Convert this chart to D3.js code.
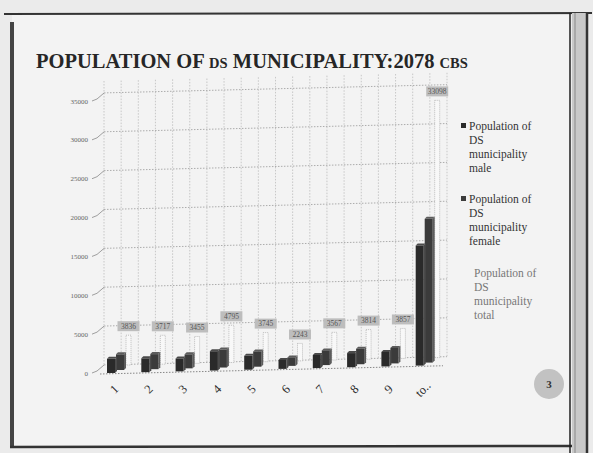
<!DOCTYPE html>
<html>
<head>
<meta charset="utf-8">
<script src="https://cdn.jsdelivr.net/npm/d3@7"></script>
<style>
  body { margin: 0; background: #e6e6e6; }
  svg { display: block; }
</style>
</head>
<body>
<div id="chart"></div>
<script>
// ward categories and series
var wards = ["1", "2", "3", "4", "5", "6", "7", "8", "9", "to.."];
var maleValues = [1820, 1780, 1650, 2480, 1780, 1150, 1680, 1820, 1860, 15450];
var femaleValues = [2016, 1937, 1805, 2315, 1965, 1093, 1887, 1994, 1997, 18500];
var totalValues = [3836, 3717, 3455, 4795, 3745, 2243, 3567, 3814, 3857, 33098];
var yTicks = [0, 5000, 10000, 15000, 20000, 25000, 30000, 35000];
var legendNames = ["Population of DS municipality male", "Population of DS municipality female", "Population of DS municipality total"];

var W = 593, H = 453;
var serif = "'Liberation Serif', 'DejaVu Serif', serif";

var data = wards.map(function(w, i) {
  return { ward: w, male: maleValues[i], female: femaleValues[i], total: totalValues[i] };
});

var svg = d3.select("#chart").append("svg")
  .attr("width", W)
  .attr("height", H);

// slide page + frame
svg.append("rect").attr("width", W).attr("height", H).attr("fill", "#ebebeb");
svg.append("rect").attr("x", 12).attr("y", 15).attr("width", 557).attr("height", 432).attr("fill", "#f3f3f3");
svg.append("line").attr("x1", 4).attr("x2", 592).attr("y1", 14).attr("y2", 13)
  .attr("stroke", "#333").attr("stroke-width", 2);
svg.append("line").attr("x1", 12).attr("x2", 12).attr("y1", 22).attr("y2", 447)
  .attr("stroke", "#444").attr("stroke-width", 4);
svg.append("line").attr("x1", 10).attr("x2", 572).attr("y1", 447).attr("y2", 446)
  .attr("stroke", "#333").attr("stroke-width", 2.5);
svg.append("rect").attr("x", 572).attr("y", 13).attr("width", 14).attr("height", 440).attr("fill", "#c8c8c8");
svg.append("line").attr("x1", 570).attr("x2", 570).attr("y1", 13).attr("y2", 453)
  .attr("stroke", "#222").attr("stroke-width", 1.5);
svg.append("line").attr("x1", 575).attr("x2", 575).attr("y1", 13).attr("y2", 453)
  .attr("stroke", "#888").attr("stroke-width", 1);
svg.append("line").attr("x1", 587).attr("x2", 587).attr("y1", 13).attr("y2", 453)
  .attr("stroke", "#333").attr("stroke-width", 2.5);

// title
var title = svg.append("text")
  .attr("x", 36).attr("y", 68)
  .style("font-family", serif)
  .style("font-size", "20.5px")
  .style("font-weight", "bold")
  .style("fill", "#262626");
title.append("tspan").text("POPULATION OF ");
title.append("tspan").text("DS").style("font-size", "14.5px");
title.append("tspan").text(" MUNICIPALITY:2078 ");
title.append("tspan").text("CBS").style("font-size", "14.5px");

// scales
var x = d3.scaleBand()
  .domain(wards)
  .range([100, 443])
  .padding(0);

var y = d3.scaleLinear()
  .domain([0, 35000])
  .range([373, 101]);

// the 3d chart leans up to the right, and rows further back sit higher
function tilt(px) { return (px - 100) * 0.024; }
var depth = 8;

var plot = svg.append("g");

// back wall gridlines
plot.selectAll(".hgrid")
  .data(yTicks)
  .enter().append("line")
  .attr("class", "hgrid")
  .attr("x1", 104).attr("x2", 447)
  .attr("y1", function(d) { return y(d) - depth - tilt(104); })
  .attr("y2", function(d) { return y(d) - depth - tilt(447); })
  .attr("stroke", "#999")
  .attr("stroke-dasharray", "1.5,1.5")
  .attr("stroke-width", 0.8);

var vgrid = [];
wards.forEach(function(w) { vgrid.push(x(w)); vgrid.push(x(w) + x.bandwidth() / 2); });
vgrid.push(443);
plot.selectAll(".vgrid")
  .data(vgrid)
  .enter().append("line")
  .attr("class", "vgrid")
  .attr("x1", function(d) { return d + 4; })
  .attr("x2", function(d) { return d + 4; })
  .attr("y1", function(d) { return y(35000) - depth - 12 - tilt(d); })
  .attr("y2", function(d) { return y(0) - depth - tilt(d); })
  .attr("stroke", "#b5b5b5")
  .attr("stroke-dasharray", "1.5,1.5")
  .attr("stroke-width", 0.7);

// floor line
plot.append("line")
  .attr("x1", 100).attr("x2", 443)
  .attr("y1", y(0) + 1 - tilt(100)).attr("y2", y(0) + 1 - tilt(443))
  .attr("stroke", "#888").attr("stroke-dasharray", "1.5,1.5");

// y axis labels and ticks
plot.selectAll(".ylab")
  .data(yTicks)
  .enter().append("text")
  .attr("class", "ylab")
  .attr("x", 88)
  .attr("y", function(d) { return y(d) + 2.5; })
  .attr("text-anchor", "end")
  .style("font-family", serif)
  .style("font-size", "7px")
  .style("fill", "#666")
  .text(function(d) { return d; });

plot.selectAll(".ytick")
  .data(yTicks)
  .enter().append("path")
  .attr("class", "ytick")
  .attr("d", function(d) { return "M92," + y(d) + "L97," + (y(d) - 2) + "L104," + (y(d) - depth); })
  .attr("fill", "none")
  .attr("stroke", "#888").attr("stroke-width", 0.8);

// total series, drawn at the back
var groups = plot.selectAll(".ward")
  .data(data)
  .enter().append("g")
  .attr("class", "ward");

groups.append("rect")
  .attr("x", function(d) { return x(d.ward) + 26; })
  .attr("y", function(d) { return y(d.total) - depth - tilt(x(d.ward)); })
  .attr("width", 5)
  .attr("height", function(d) { return y(0) - y(d.total); })
  .attr("fill", "#f8f8f8")
  .attr("stroke", "#b0b0b0")
  .attr("stroke-dasharray", "1,1")
  .attr("stroke-width", 0.8);

// female (middle row) and male (front row)
function bar3d(sel, key, dx, dy, col, side) {
  var bw = 8;
  sel.append("path")
    .attr("d", function(d) {
      var x0 = x(d.ward) + dx + bw, yt = y(d[key]) - dy - tilt(x(d.ward)), yb = y(0) - dy - tilt(x(d.ward));
      return "M" + x0 + "," + yt + "l2,-2v" + (yb - yt) + "l-2,2z";
    })
    .attr("fill", side);
  sel.append("path")
    .attr("d", function(d) {
      var x0 = x(d.ward) + dx, yt = y(d[key]) - dy - tilt(x(d.ward));
      return "M" + x0 + "," + yt + "l2,-2h" + bw + "l-2,2z";
    })
    .attr("fill", side);
  sel.append("rect")
    .attr("x", function(d) { return x(d.ward) + dx; })
    .attr("y", function(d) { return y(d[key]) - dy - tilt(x(d.ward)); })
    .attr("width", bw)
    .attr("height", function(d) { return y(0) - y(d[key]); })
    .attr("fill", col);
}
bar3d(groups, "female", 16, 3, "#3b3b3b", "#5c5c5c");
bar3d(groups, "male", 7, 0, "#2a2a2a", "#4a4a4a");

// data labels of total
groups.append("rect")
  .attr("x", function(d) { return x(d.ward) + 28.5 - 11; })
  .attr("y", function(d) { return y(d.total) - depth - tilt(x(d.ward)) - 14; })
  .attr("width", 22)
  .attr("height", 10)
  .attr("fill", "#bdbdbd");

groups.append("text")
  .attr("x", function(d) { return x(d.ward) + 28.5; })
  .attr("y", function(d) { return y(d.total) - depth - tilt(x(d.ward)) - 6.5; })
  .attr("text-anchor", "middle")
  .style("font-family", serif)
  .style("font-size", "7.5px")
  .style("fill", "#555")
  .text(function(d) { return d.total; });

// x labels, rotated
plot.selectAll(".xlab")
  .data(wards)
  .enter().append("text")
  .attr("class", "xlab")
  .attr("transform", function(d) {
    return "translate(" + (x(d) + x.bandwidth() / 2) + ",392) rotate(-45)";
  })
  .attr("text-anchor", "middle")
  .style("font-family", serif)
  .style("font-size", "12.5px")
  .style("fill", "#2e2e2e")
  .text(function(d) { return d; });

// legend
var legendTop = [130, 203, 277];
var legendCol = ["#2a2a2a", "#3b3b3b", null];
var legendText = ["#333", "#333", "#777"];
legendNames.forEach(function(name, i) {
  var words = name.split(" ");
  var lines = [words[0] + " " + words[1], words[2], words[3], words[4]];
  var g = svg.append("g");
  if (legendCol[i]) {
    g.append("rect")
      .attr("x", 461).attr("y", legendTop[i] - 7)
      .attr("width", 5).attr("height", 5)
      .attr("fill", legendCol[i]);
  }
  g.selectAll("text")
    .data(lines)
    .enter().append("text")
    .attr("x", i === 2 ? 474 : 469)
    .attr("y", function(d, j) { return legendTop[i] + j * 14; })
    .style("font-family", serif)
    .style("font-size", "11.5px")
    .style("fill", legendText[i])
    .text(function(d) { return d; });
});

// page number
svg.append("circle").attr("cx", 549).attr("cy", 384).attr("r", 15).attr("fill", "#c2c2c2");
svg.append("text")
  .attr("x", 549).attr("y", 388)
  .attr("text-anchor", "middle")
  .style("font-family", serif)
  .style("font-size", "11px")
  .style("font-weight", "bold")
  .style("fill", "#333")
  .text("3");
</script>
</body>
</html>
